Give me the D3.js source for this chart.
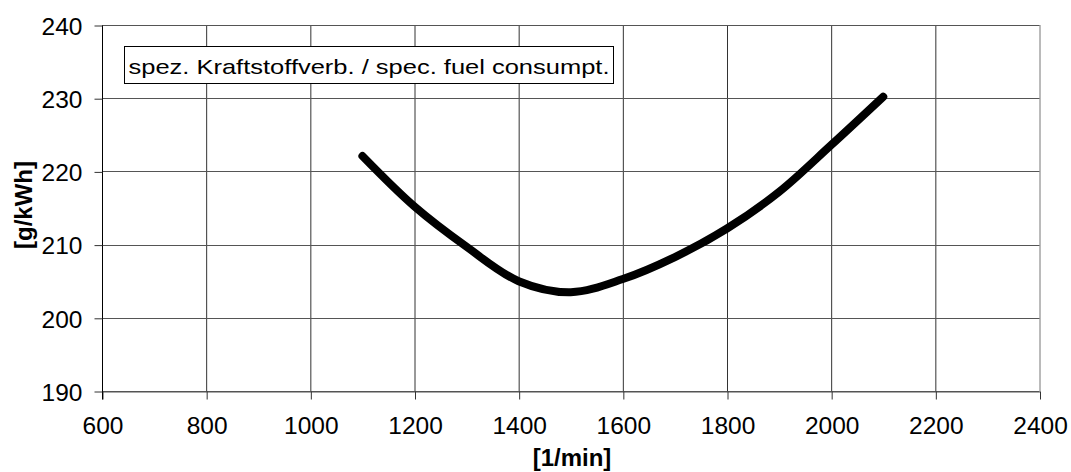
<!DOCTYPE html>
<html>
<head>
<meta charset="utf-8">
<script src="https://cdn.jsdelivr.net/npm/d3@7"></script>
<style>
  body { margin: 0; background: #fff; }
  svg { display: block; font-family: "Liberation Sans", Arial, sans-serif; }
</style>
</head>
<body>
<svg class="chart"></svg>
<script>
const width = 1071;
const height = 472;
const margin = { top: 25, right: 31.5, bottom: 81, left: 102 };

// data
const rpm = [1100, 1200, 1300, 1400, 1500, 1600, 1700, 1800, 1900, 2000, 2100];
const consumption = [222.1, 215.2, 209.7, 205.0, 203.5, 205.3, 208.3, 212.2, 217.2, 223.6, 230.2];
const xTicks = [600, 800, 1000, 1200, 1400, 1600, 1800, 2000, 2200, 2400];
const yTicks = [190, 200, 210, 220, 230, 240];
const legendLabel = "spez. Kraftstoffverb. / spec. fuel consumpt.";

const svg = d3.select(".chart").attr("width", width).attr("height", height);

const xScale = d3.scaleLinear().domain([600, 2400]).range([margin.left, width - margin.right]);
const yScale = d3.scaleLinear().domain([190, 240]).range([height - margin.bottom, margin.top]);

// grid
svg.append("g")
  .selectAll("line")
  .data(xTicks)
  .join("line")
  .attr("x1", (d) => xScale(d) + 0.5)
  .attr("x2", (d) => xScale(d) + 0.5)
  .attr("y1", yScale(240))
  .attr("y2", yScale(190))
  .attr("stroke", (d) => (d === 2400 ? "#777" : "#333"))
  .attr("stroke-width", 1);

svg.append("g")
  .selectAll("line")
  .data(yTicks)
  .join("line")
  .attr("x1", xScale(600))
  .attr("x2", xScale(2400))
  .attr("y1", (d) => Math.round(yScale(d)) + 0.5)
  .attr("y2", (d) => Math.round(yScale(d)) + 0.5)
  .attr("stroke", "#555")
  .attr("stroke-width", 1);

// axes
const xAxis = svg.append("g")
  .attr("transform", `translate(0.5,${Math.round(yScale(190)) + 0.5})`)
  .call(d3.axisBottom(xScale).tickValues(xTicks).tickFormat(d3.format("d"))
    .tickSize(8).tickSizeOuter(0).tickPadding(17));

const yAxis = svg.append("g")
  .attr("transform", `translate(${Math.round(xScale(600)) + 0.5},0.5)`)
  .call(d3.axisLeft(yScale).tickValues(yTicks).tickFormat(d3.format("d"))
    .tickSize(8).tickSizeOuter(0).tickPadding(12));

[xAxis, yAxis].forEach((a) => {
  a.select(".domain").attr("stroke", "#000");
  a.selectAll(".tick line").attr("stroke", "#333");
  a.selectAll(".tick text")
    .attr("fill", "#000")
    .style("font-size", "24.5px")
    .style("font-family", "'Liberation Sans', Arial, sans-serif");
});
yAxis.selectAll(".tick text").attr("dy", "0.36em");
yAxis.select(".domain").attr("d", `M0,${yScale(240)}V${yScale(190) + 8}`);
xAxis.select(".domain").attr("stroke", "#555");

// curve
const points = rpm.map((r, i) => [r, consumption[i]]);
svg.append("path")
  .datum(points)
  .attr("fill", "none")
  .attr("stroke", "#000")
  .attr("stroke-width", 8)
  .attr("stroke-linecap", "round")
  .attr("stroke-linejoin", "round")
  .attr("d", d3.line()
    .x((d) => xScale(d[0]))
    .y((d) => yScale(d[1]))
    .curve(d3.curveCatmullRom.alpha(0.5)));

// legend box
const legend = svg.append("g").attr("transform", "translate(124.5,46.5)");
legend.append("rect")
  .attr("width", 489)
  .attr("height", 37)
  .attr("fill", "#fff")
  .attr("stroke", "#000")
  .attr("stroke-width", 1);
legend.append("text")
  .attr("x", 4)
  .attr("y", 27)
  .style("font-size", "21px")
  .attr("textLength", 481)
  .attr("lengthAdjust", "spacingAndGlyphs")
  .text(legendLabel);

// axis titles
svg.append("text")
  .attr("x", 572)
  .attr("y", 466)
  .attr("text-anchor", "middle")
  .style("font-size", "24px")
  .style("font-weight", "bold")
  .text("[1/min]");

svg.append("text")
  .attr("transform", "translate(32,205) rotate(-90)")
  .attr("text-anchor", "middle")
  .style("font-size", "24px")
  .style("font-weight", "bold")
  .text("[g/kWh]");
</script>
</body>
</html>
